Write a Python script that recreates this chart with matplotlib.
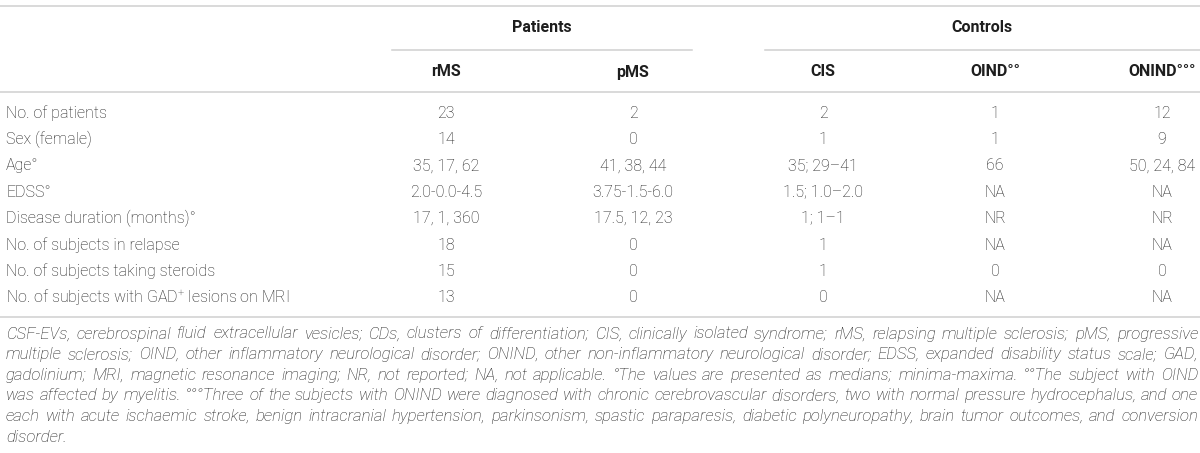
import matplotlib.pyplot as plt

# table content
groups = ['Patients', 'Controls']
columns = ['rMS', 'pMS', 'CIS', 'OIND°°', 'ONIND°°°']
row_labels = ['No. of patients', 'Sex (female)', 'Age°', 'EDSS°',
              'Disease duration (months)°', 'No. of subjects in relapse',
              'No. of subjects taking steroids',
              'No. of subjects with GAD$^{+}$ lesions on MRI']
rms = ['23', '14', '35, 17, 62', '2.0-0.0-4.5', '17, 1, 360', '18', '15', '13']
pms = ['2', '0', '41, 38, 44', '3.75-1.5-6.0', '17.5, 12, 23', '0', '0', '0']
cis = ['2', '1', '35; 29–41', '1.5; 1.0–2.0', '1; 1–1', '1', '1', '0']
oind = ['1', '1', '66', 'NA', 'NR', 'NA', '0', 'NA']
onind = ['12', '9', '50, 24, 84', 'NA', 'NR', 'NA', '0', 'NA']
footnote = [
    'CSF-EVs, cerebrospinal fluid extracellular vesicles; CDs, clusters of differentiation; CIS, clinically isolated syndrome; rMS, relapsing multiple sclerosis; pMS, progressive',
    'multiple sclerosis; OIND, other inflammatory neurological disorder; ONIND, other non-inflammatory neurological disorder; EDSS, expanded disability status scale; GAD,',
    'gadolinium; MRI, magnetic resonance imaging; NR, not reported; NA, not applicable. °The values are presented as medians; minima-maxima. °°The subject with OIND',
    'was affected by myelitis. °°°Three of the subjects with ONIND were diagnosed with chronic cerebrovascular disorders, two with normal pressure hydrocephalus, and one',
    'each with acute ischaemic stroke, benign intracranial hypertension, parkinsonism, spastic paraparesis, diabetic polyneuropathy, brain tumor outcomes, and conversion',
    'disorder.',
]

# layout (pixels)
col_x = [446, 633, 823, 995, 1162]
group_x = [542, 982]
group_lines = [(392, 692), (765, 1200)]
row_y0, row_dy = 113, 26.4
foot_y0, foot_dy = 334, 20.6
text_color = '#1e1e1e'
line_color = '#cfcfcf'
body_size = 11.5

plt.rcParams['font.family'] = ['Roboto', 'DejaVu Sans']
plt.rcParams['mathtext.fontset'] = 'custom'
plt.rcParams['mathtext.rm'] = 'Roboto:light'

fig = plt.figure(figsize=(12, 4.53), dpi=100)
ax = fig.add_axes([0, 0, 1, 1])
ax.set_xlim(0, 1200)
ax.set_ylim(453, 0)
ax.axis('off')

# rules
for y in (6, 92, 317):
    ax.plot([0, 1200], [y, y], color=line_color, lw=1.1)
for x0, x1 in group_lines:
    ax.plot([x0, x1], [50, 50], color=line_color, lw=1.1)

# headers
for g, x in zip(groups, group_x):
    ax.text(x, 27, g, ha='center', va='center', fontsize=body_size,
            fontweight='bold', color=text_color)
for c, x in zip(columns, col_x):
    ax.text(x, 72, c, ha='center', va='center', fontsize=body_size,
            fontweight='bold', color=text_color)

# body
data = [rms, pms, cis, oind, onind]
for i, lab in enumerate(row_labels):
    y = row_y0 + i * row_dy
    ax.text(6, y, lab, ha='left', va='center', fontsize=body_size,
            fontweight='light', color=text_color)
    for col, x in zip(data, col_x):
        ax.text(x, y, col[i], ha='center', va='center', fontsize=body_size,
                fontweight='light', color=text_color)

# footnote, justified like the source
fig.canvas.draw()
renderer = fig.canvas.get_renderer()
left, right = 6, 1198

# pick a size so the longest line just fills the width
probe_size = 10
longest = 0
for line in footnote[:-1]:
    t = ax.text(0, 0, line, fontsize=probe_size, style='italic',
                fontweight='light')
    longest = max(longest, t.get_window_extent(renderer).width)
    t.remove()
foot_size = probe_size * (right - left) / longest * 0.985

for j, line in enumerate(footnote):
    y = foot_y0 + j * foot_dy
    words = line.split(' ')
    texts = []
    widths = []
    for w in words:
        t = ax.text(0, y, w, ha='left', va='center', fontsize=foot_size,
                    style='italic', fontweight='light', color=text_color)
        widths.append(t.get_window_extent(renderer).width)
        texts.append(t)
    if j < len(footnote) - 1 and len(words) > 1:
        gap = (right - left - sum(widths)) / (len(words) - 1)
    else:
        gap = foot_size * 0.35
    x = left
    for t, w in zip(texts, widths):
        t.set_x(x)
        x += w + gap

fig.savefig('out.png', dpi=100)
